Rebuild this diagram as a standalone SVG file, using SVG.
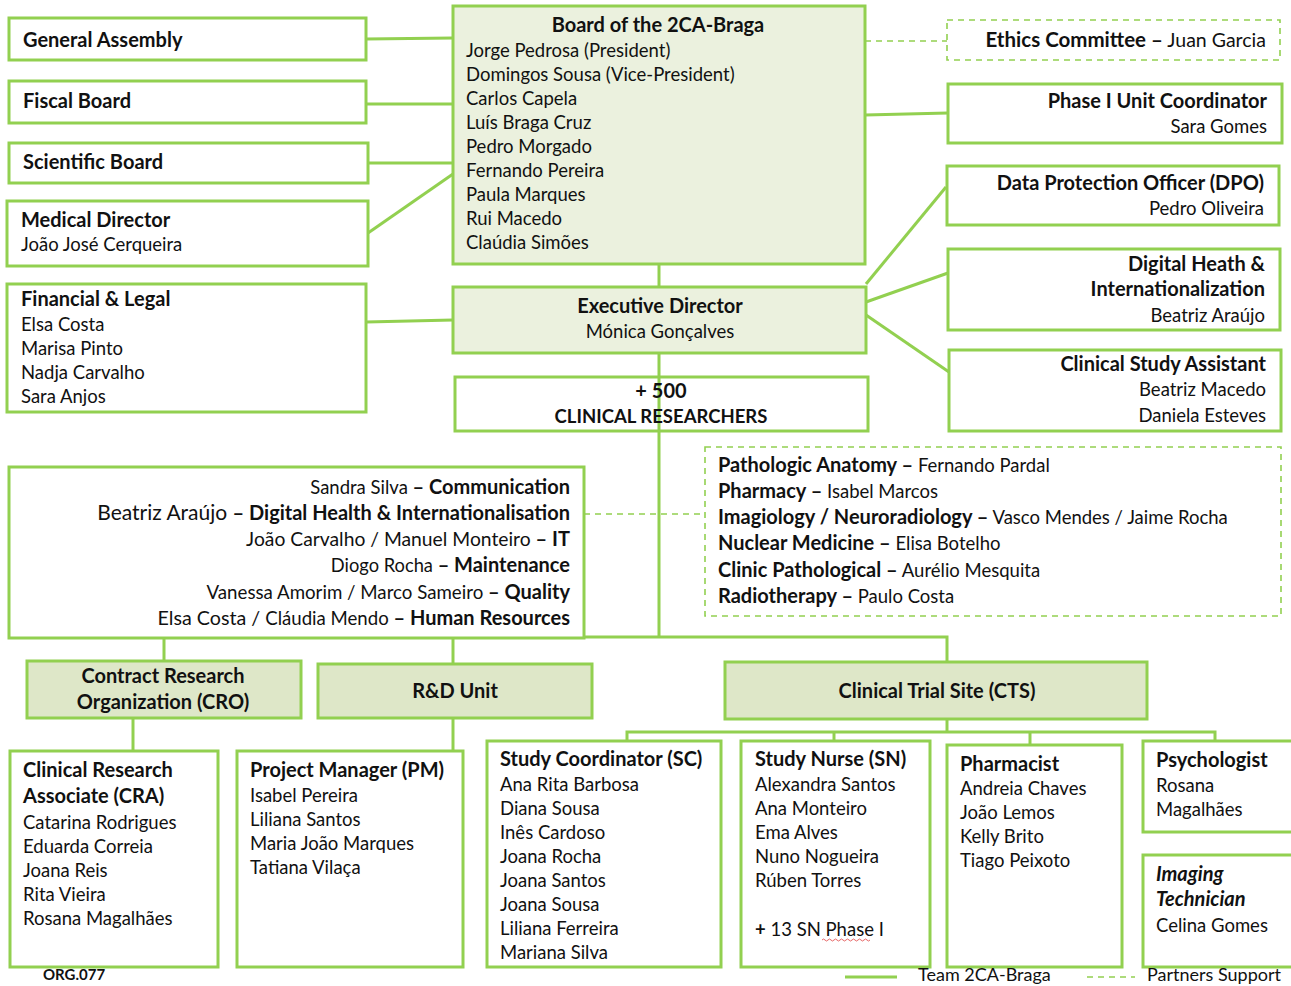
<svg xmlns="http://www.w3.org/2000/svg" width="1291" height="986" viewBox="0 0 1291 986">
<style>
.box{fill:#fff;stroke:#92D050;stroke-width:3}
.bl{fill:#EBF1DE;stroke:#92D050;stroke-width:3}
.bm{fill:#DEE7C8;stroke:#92D050;stroke-width:3}
.bn{fill:none;stroke:#92D050;stroke-width:3}
.dbox{fill:#fff;stroke:#92D050;stroke-width:1.6;stroke-dasharray:6 5}
.c{stroke:#92D050;stroke-width:3;fill:none}
.cd{stroke:#92D050;stroke-width:1.6;fill:none;stroke-dasharray:6 5}
text{font-family:Lato,"Open Sans",sans-serif;font-size:18.5px;fill:#111}
.b{font-weight:bold;font-size:20px}
.m{text-anchor:middle}
.e{text-anchor:end}
.i{font-style:italic}
</style>
<rect width="1291" height="986" fill="#fff"/>
<g id="connectors">
<line class="c" x1="366" y1="39" x2="453" y2="38"/>
<line class="c" x1="366" y1="104" x2="453" y2="104"/>
<line class="c" x1="368" y1="163" x2="453" y2="163"/>
<line class="c" x1="368" y1="233" x2="453" y2="174"/>
<line class="cd" x1="865" y1="41" x2="947" y2="41"/>
<line class="c" x1="865" y1="115" x2="948" y2="113"/>
<line class="c" x1="659" y1="264" x2="659" y2="287"/>
<line class="c" x1="366" y1="322" x2="453" y2="320"/>
<line class="c" x1="866" y1="284" x2="946" y2="187"/>
<line class="c" x1="866" y1="302" x2="948" y2="273"/>
<line class="c" x1="866" y1="315" x2="949" y2="372"/>
<line class="c" x1="659" y1="353" x2="659" y2="637"/>
<line class="cd" x1="584" y1="514" x2="705" y2="514"/>
<polyline class="c" points="164,661 164,637 947,637 947,662"/>
<line class="c" x1="453" y1="637" x2="453" y2="664"/>
<line class="c" x1="133" y1="719" x2="133" y2="751"/>
<line class="c" x1="453" y1="719" x2="453" y2="751"/>
<line class="c" x1="947" y1="720" x2="947" y2="732"/>
<polyline class="c" points="627,741 627,732 1215,732 1215,740"/>
<line class="c" x1="834" y1="732" x2="834" y2="741"/>
<line class="c" x1="1030" y1="732" x2="1030" y2="745"/>
</g>
<g id="general-assembly"><rect class="box" x="9" y="18" width="357" height="42"/><text class="b" x="23" y="47">General Assembly</text></g>
<g id="fiscal-board"><rect class="box" x="9" y="81" width="357" height="42"/><text class="b" x="23" y="108">Fiscal Board</text></g>
<g id="scientific-board"><rect class="box" x="9" y="143" width="359" height="40"/><text class="b" x="23" y="169">Scientific Board</text></g>
<g id="medical-director"><rect class="box" x="7" y="201" width="361" height="65"/><text class="b" x="21" y="227">Medical Director</text><text x="21" y="251">João José Cerqueira</text></g>
<g id="board"><rect class="bl" x="453" y="6" width="412" height="258"/>
<text class="b m" x="658" y="32">Board of the 2CA-Braga</text>
<text x="466" y="57">Jorge Pedrosa (President)</text>
<text x="466" y="81">Domingos Sousa (Vice-President)</text>
<text x="466" y="105">Carlos Capela</text>
<text x="466" y="129">Luís Braga Cruz</text>
<text x="466" y="153">Pedro Morgado</text>
<text x="466" y="177">Fernando Pereira</text>
<text x="466" y="201">Paula Marques</text>
<text x="466" y="225">Rui Macedo</text>
<text x="466" y="249">Claúdia Simões</text></g>
<g id="ethics"><rect class="dbox" x="947" y="20" width="333" height="40"/><text class="e" x="1266" y="47" style="font-size:19.5px"><tspan class="b" style="font-size:20.5px">Ethics Committee –</tspan> Juan Garcia</text></g>
<g id="phase1"><rect class="box" x="948" y="84" width="334" height="59"/><text class="b e" x="1267" y="108">Phase I Unit Coordinator</text><text class="e" x="1267" y="133">Sara Gomes</text></g>
<g id="dpo"><rect class="box" x="947" y="166" width="332" height="59"/><text class="b e" x="1264" y="190">Data Protection Officer (DPO)</text><text class="e" x="1264" y="215">Pedro Oliveira</text></g>
<g id="digital"><rect class="box" x="948" y="249" width="332" height="81"/><text class="b e" x="1265" y="271">Digital Heath &amp;</text><text class="b e" x="1265" y="296">Internationalization</text><text class="e" x="1265" y="322">Beatriz Araújo</text></g>
<g id="csa"><rect class="box" x="949" y="350" width="332" height="81"/><text class="b e" x="1266" y="371">Clinical Study Assistant</text><text class="e" x="1266" y="396">Beatriz Macedo</text><text class="e" x="1266" y="422">Daniela Esteves</text></g>
<g id="financial"><rect class="box" x="7" y="284" width="359" height="128"/><text class="b" x="21" y="306">Financial &amp; Legal</text><text x="21" y="331">Elsa Costa</text><text x="21" y="355">Marisa Pinto</text><text x="21" y="379">Nadja Carvalho</text><text x="21" y="403">Sara Anjos</text></g>
<g id="executive"><rect class="bl" x="453" y="287" width="413" height="66"/><text class="b m" x="660" y="313">Executive Director</text><text class="m" x="660" y="338">Mónica Gonçalves</text></g>
<g id="researchers"><rect class="bn" x="455" y="377" width="413" height="54"/><text class="b m" x="661" y="398">+ 500</text><text class="b m" x="661" y="423" style="font-size:18.5px">CLINICAL RESEARCHERS</text></g>
<g id="staff"><rect class="box" x="9" y="467" width="575" height="171"/>
<text class="e" x="570" y="494"><tspan font-size="18.5">Sandra Silva </tspan><tspan class="b">– Communication</tspan></text>
<text class="e" x="570" y="520"><tspan font-size="21">Beatriz Araújo </tspan><tspan class="b">– Digital Health &amp; Internationalisation</tspan></text>
<text class="e" x="570" y="546"><tspan font-size="19.3">João Carvalho / Manuel Monteiro </tspan><tspan class="b">– IT</tspan></text>
<text class="e" x="570" y="572"><tspan font-size="18.3">Diogo Rocha </tspan><tspan class="b">– Maintenance</tspan></text>
<text class="e" x="570" y="599"><tspan font-size="18.7">Vanessa Amorim / Marco Sameiro </tspan><tspan class="b">– Quality</tspan></text>
<text class="e" x="570" y="625"><tspan font-size="19.7">Elsa Costa / </tspan><tspan font-size="18.6">Cláudia Mendo </tspan><tspan class="b">– Human Resources</tspan></text></g>
<g id="partners"><rect class="dbox" x="705" y="447" width="576" height="169"/>
<text x="718" y="472"><tspan class="b">Pathologic Anatomy –</tspan> Fernando Pardal</text>
<text x="718" y="498"><tspan class="b">Pharmacy –</tspan> Isabel Marcos</text>
<text x="718" y="524"><tspan class="b">Imagiology / Neuroradiology –</tspan> Vasco Mendes / Jaime Rocha</text>
<text x="718" y="550"><tspan class="b">Nuclear Medicine –</tspan> Elisa Botelho</text>
<text x="718" y="577"><tspan class="b">Clinic Pathological –</tspan> Aurélio Mesquita</text>
<text x="718" y="603"><tspan class="b">Radiotherapy –</tspan> Paulo Costa</text></g>
<g id="cro"><rect class="bm" x="27" y="661" width="274" height="57"/><text class="b m" x="163" y="683">Contract Research</text><text class="b m" x="163" y="709">Organization (CRO)</text></g>
<g id="rd"><rect class="bm" x="318" y="664" width="274" height="54"/><text class="b m" x="455" y="698">R&amp;D Unit</text></g>
<g id="cts"><rect class="bm" x="725" y="662" width="422" height="57"/><text class="b m" x="937" y="698">Clinical Trial Site (CTS)</text></g>
<g id="cra"><rect class="box" x="10" y="751" width="208" height="216"/><text class="b" x="23" y="777">Clinical Research</text><text class="b" x="23" y="803">Associate (CRA)</text><text x="23" y="829">Catarina Rodrigues</text><text x="23" y="853">Eduarda Correia</text><text x="23" y="877">Joana Reis</text><text x="23" y="901">Rita Vieira</text><text x="23" y="925">Rosana Magalhães</text></g>
<g id="pm"><rect class="box" x="237" y="751" width="226" height="216"/><text class="b" x="250" y="777">Project Manager (PM)</text><text x="250" y="802">Isabel Pereira</text><text x="250" y="826">Liliana Santos</text><text x="250" y="850">Maria João Marques</text><text x="250" y="874">Tatiana Vilaça</text></g>
<g id="sc"><rect class="box" x="487" y="741" width="234" height="226"/><text class="b" x="500" y="766">Study Coordinator (SC)</text><text x="500" y="791">Ana Rita Barbosa</text><text x="500" y="815">Diana Sousa</text><text x="500" y="839">Inês Cardoso</text><text x="500" y="863">Joana Rocha</text><text x="500" y="887">Joana Santos</text><text x="500" y="911">Joana Sousa</text><text x="500" y="935">Liliana Ferreira</text><text x="500" y="959">Mariana Silva</text></g>
<g id="sn"><rect class="box" x="741" y="741" width="189" height="226"/><text class="b" x="755" y="766">Study Nurse (SN)</text><text x="755" y="791">Alexandra Santos</text><text x="755" y="815">Ana Monteiro</text><text x="755" y="839">Ema Alves</text><text x="755" y="863">Nuno Nogueira</text><text x="755" y="887">Rúben Torres</text><text x="755" y="936"><tspan font-weight="bold">+</tspan> 13 SN Phase I</text><path d="M822,940 q1.5,-2 3,0 t3,0 t3,0 t3,0 t3,0 t3,0 t3,0 t3,0 t3,0 t3,0 t3,0 t3,0 t3,0 t3,0 t3,0 t3,0" fill="none" stroke="#e04040" stroke-width="0.8"/></g>
<g id="pharmacist"><rect class="box" x="947" y="745" width="175" height="222"/><text class="b" x="960" y="771">Pharmacist</text><text x="960" y="795">Andreia Chaves</text><text x="960" y="819">João Lemos</text><text x="960" y="843">Kelly Brito</text><text x="960" y="867">Tiago Peixoto</text></g>
<g id="psychologist"><rect class="box" x="1143" y="741" width="150" height="91"/><text class="b" x="1156" y="767">Psychologist</text><text x="1156" y="792">Rosana</text><text x="1156" y="816">Magalhães</text></g>
<g id="imaging"><rect class="box" x="1143" y="855" width="150" height="112"/><text class="b i" x="1156" y="881">Imaging</text><text class="b i" x="1156" y="906">Technician</text><text x="1156" y="932">Celina Gomes</text></g>
<g id="legend">
<text class="b" x="43" y="980" style="font-size:15px">ORG.077</text>
<line class="c" x1="845" y1="977" x2="897" y2="977" stroke-width="2"/>
<text x="918" y="981" style="font-size:18px">Team 2CA-Braga</text>
<line class="cd" x1="1087" y1="977" x2="1135" y2="977" stroke-width="2"/>
<text x="1147" y="981" style="font-size:18px">Partners Support</text>
</g>
</svg>
